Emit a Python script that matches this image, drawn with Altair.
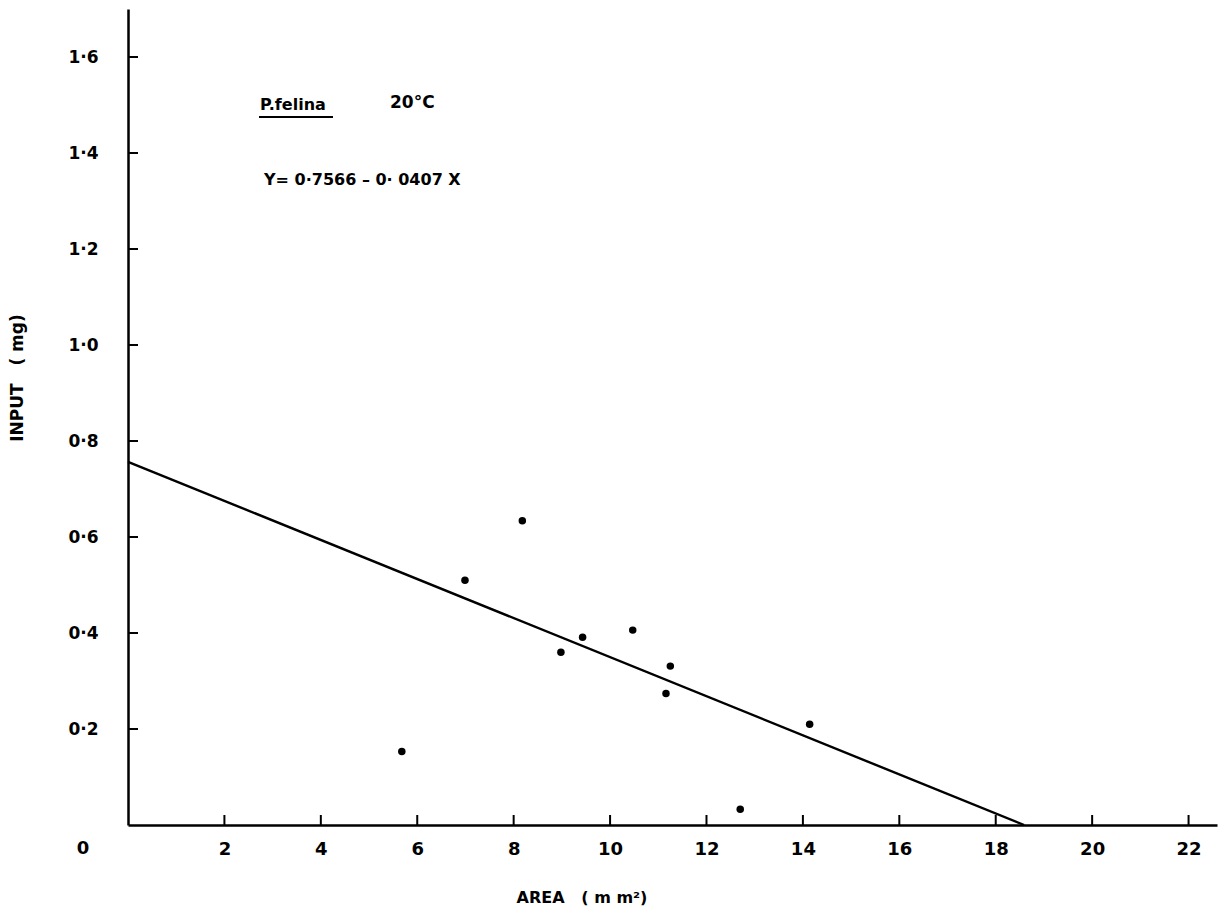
import altair as alt
import pandas as pd

# Measured shell area (mm^2) and food input (mg), P. felina at 20 °C
area = [5.68, 6.99, 8.18, 8.98, 9.43, 10.47, 11.16, 11.25, 12.70, 14.14]
input_mg = [0.153, 0.510, 0.634, 0.360, 0.391, 0.406, 0.274, 0.331, 0.033, 0.210]

# Fitted regression: Y = 0.7566 - 0.0407 X
intercept = 0.7566
slope = -0.0407

x_ticks = [2, 4, 6, 8, 10, 12, 14, 16, 18, 20, 22]
y_ticks = [0.2, 0.4, 0.6, 0.8, 1.0, 1.2, 1.4, 1.6]

X_MAX = 22.59
Y_MAX = 1.70
W, H = 1089, 816
FONT = "DejaVu Sans"
NB = "\u00a0"  # non-breaking space keeps the wide spacing in SVG text

points = pd.DataFrame({"area": area, "input": input_mg})
x_end = -intercept / slope
fit = pd.DataFrame({"area": [0.0, x_end], "input": [intercept, intercept + slope * x_end]})

xs = alt.Scale(domain=[0, X_MAX], nice=False, zero=True)
ys = alt.Scale(domain=[0, Y_MAX], nice=False, zero=True)

x_axis = alt.Axis(
    values=x_ticks, ticks=False, grid=False, domainColor="black", domainWidth=2.5,
    labelFont=FONT, labelFontSize=18, labelFontWeight="bold", labelColor="black",
    labelPadding=15, title=None,
)
y_axis = alt.Axis(
    values=y_ticks, ticks=False, grid=False, domainColor="black", domainWidth=2.5,
    labelFont=FONT, labelFontSize=17, labelFontWeight="bold", labelColor="black",
    labelPadding=30, labelExpr="replace(format(datum.value, '.1f'), '.', '·')",
    title=None,
)

scatter = alt.Chart(points).mark_circle(size=56, color="black", opacity=1).encode(
    x=alt.X("area:Q", scale=xs, axis=x_axis),
    y=alt.Y("input:Q", scale=ys, axis=y_axis),
)

line = alt.Chart(fit).mark_line(color="black", strokeWidth=2.4).encode(
    x=alt.X("area:Q", scale=xs),
    y=alt.Y("input:Q", scale=ys),
)

# Inward-pointing tick marks on both axes
xt = alt.Chart(pd.DataFrame({"v": x_ticks})).mark_rule(color="black", strokeWidth=2).encode(
    x=alt.X("v:Q", scale=xs), y=alt.value(H), y2=alt.value(H - 10)
)
yt = alt.Chart(pd.DataFrame({"v": y_ticks})).mark_rule(color="black", strokeWidth=2).encode(
    y=alt.Y("v:Q", scale=ys), x=alt.value(0), x2=alt.value(10)
)

def label(text, px, py, size=16, weight="bold", angle=0, align="left"):
    return alt.Chart(pd.DataFrame({"t": [text]})).mark_text(
        font=FONT, fontSize=size, fontWeight=weight, color="black",
        align=align, baseline="middle", angle=angle,
    ).encode(text="t:N", x=alt.value(px), y=alt.value(py))

origin = label("0", -45, 840, size=18, align="center")
species = label("P.felina", 132, 96, size=16)
underline = alt.Chart(pd.DataFrame({"a": [0]})).mark_rule(color="black", strokeWidth=1.8).encode(
    x=alt.value(131), x2=alt.value(205), y=alt.value(108)
)
temp = label("20°C", 262, 94, size=17)
equation = label(f"Y={NB}0·7566{NB}–{NB}0·{NB}0407{NB}X", 136, 171, size=16)
xtitle = label(f"AREA{NB}{NB}{NB}({NB}m{NB}m²)", 454, 889, size=16, align="center")
ytitle = label(f"INPUT{NB}{NB}{NB}({NB}mg)", -110, 369, size=17, angle=270, align="center")

chart = alt.layer(
    line, scatter, xt, yt, origin, species, underline, temp, equation, xtitle, ytitle
).properties(
    width=W, height=H,
    autosize=alt.AutoSizeParams(type="none"),
    padding={"left": 128, "top": 9, "right": 2, "bottom": 87},
    background="white",
).configure_view(stroke=None)

chart.save("out.html", embed_options={"renderer": "svg", "actions": False})
